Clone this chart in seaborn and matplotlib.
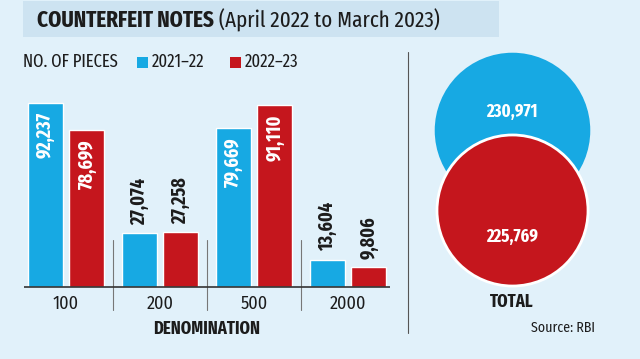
import seaborn as sns
import matplotlib.pyplot as plt
import matplotlib.patches as mpatches
import pandas as pd

# data
denominations = ["100", "200", "500", "2000"]
years = ["2021\u201322", "2022\u201323"]
pieces_2021_22 = [92237, 27074, 79669, 13604]
pieces_2022_23 = [78699, 27258, 91110, 9806]
totals = [230971, 225769]

BLUE = "#17a9e3"
RED = "#c5161d"
BG = "#e1f1fa"
BAND = "#cde3f1"
DARK = "#1c1c1c"

sns.set_style("white")
COND = ["Fira Sans Condensed", "Roboto Condensed", "IBM Plex Sans Condensed", "DejaVu Sans"]
XCOND = ["Fira Sans Extra Condensed", "Fira Sans Condensed", "Roboto Condensed",
         "IBM Plex Sans Condensed", "DejaVu Sans"]
plt.rcParams["font.family"] = COND

df = pd.DataFrame({
    "denomination": denominations * 2,
    "year": [years[0]] * 4 + [years[1]] * 4,
    "pieces": pieces_2021_22 + pieces_2022_23,
})

W, H = 640, 359
fig = plt.figure(figsize=(6.4, 3.59), dpi=100, facecolor=BG)


def px_axes(x0, y0, x1, y1):
    # axes placed in pixel coords (y measured from top)
    return fig.add_axes([x0 / W, (H - y1) / H, (x1 - x0) / W, (y1 - y0) / H])


# overlay for texts / decorations in pixel coords
ov = px_axes(0, 0, W, H)
ov.set_xlim(0, W)
ov.set_ylim(H, 0)
ov.axis("off")

ov.add_patch(mpatches.Rectangle((23, 1), 476, 36, color=BAND, lw=0))
t1 = ov.text(37, 20, "COUNTERFEIT NOTES", fontsize=16.5, fontweight="bold",
             color=DARK, va="center", ha="left", family=XCOND)
ov.annotate(" (April 2022 to March 2023)", xy=(1, 0.5), xycoords=t1,
            fontsize=16.5, color=DARK, va="center", ha="left", family=XCOND)

ov.text(23, 62, "NO. OF PIECES", fontsize=13, color=DARK, va="center",
        family=XCOND)
for x, lab, col in zip([137, 230], years, [BLUE, RED]):
    ov.add_patch(mpatches.Rectangle((x, 57), 11, 11, color=col, lw=0))
    ov.text(x + 15, 62, lab, fontsize=13, color=DARK, va="center",
            family=XCOND)

ov.plot([408, 408], [52, 333], color="#555555", lw=0.8)

# bar chart
ax = px_axes(19, 95, 395, 287)
ax.set_facecolor("none")
sns.barplot(data=df, x="denomination", y="pieces", hue="year",
            order=denominations, hue_order=years, palette=[BLUE, RED],
            width=0.885, gap=0.16, saturation=1, ax=ax, legend=False)
ax.set_xlim(-0.5, len(denominations) - 0.5)
ax.set_ylim(0, 96000)
for s in ax.spines.values():
    s.set_visible(False)
ax.set_yticks([])
ax.set_xticks([])
ax.set_xlabel("")
ax.set_ylabel("")

ax.hlines(0, -0.885 / 2, len(denominations) - 1 + 0.885 / 2,
          color="#333333", lw=1.2, clip_on=False, zorder=5)
for i in range(len(denominations) - 1):
    ax.plot([i + 0.5, i + 0.5], [23400, -11500], color="#777777", lw=0.8,
            clip_on=False)
for i, d in enumerate(denominations):
    ax.annotate(d, xy=(i, 0), xytext=(0, -6), textcoords="offset points",
                ha="center", va="top", fontsize=13, color=DARK,
                annotation_clip=False)
ax.annotate("DENOMINATION", xy=(1.5, 0), xytext=(0, -24),
            textcoords="offset points", ha="center", va="top",
            fontsize=13, fontweight="bold", color=DARK, annotation_clip=False,
            family=XCOND)

for cont in ax.containers:
    for bar in cont:
        v = bar.get_height()
        xc = bar.get_x() + bar.get_width() / 2
        if v > 50000:
            ax.annotate(f"{v:,.0f}", xy=(xc, v), xytext=(0, -7),
                        textcoords="offset points", rotation=90,
                        ha="center", va="top", fontsize=14,
                        fontweight="bold", color="white", family=XCOND)
        else:
            ax.annotate(f"{v:,.0f}", xy=(xc, v), xytext=(0, 6),
                        textcoords="offset points", rotation=90,
                        ha="center", va="bottom", fontsize=14,
                        fontweight="bold", color=DARK, family=XCOND)

# totals as circles, area proportional to value
cx = px_axes(432, 90, 592, 250)
cx.set_xlim(-1, 1)
cx.set_ylim(-0.5, 1.5)
cx.axis("off")
scale = 12100 / max(totals)
ypos = [1, 0]
for y, val, col, ec in zip(ypos, totals, [BLUE, RED], [BLUE, "white"]):
    cx.scatter([0], [y], s=val * scale, color=col, edgecolor=ec,
               linewidth=2, zorder=2 + (1 - y), clip_on=False)
cx.annotate(f"{totals[0]:,}", xy=(0, ypos[0]), xytext=(0, 13),
            textcoords="offset points", ha="center", va="center",
            fontsize=13, fontweight="bold", color="white", zorder=5,
            family=XCOND)
cx.annotate(f"{totals[1]:,}", xy=(0, ypos[1]), xytext=(0, -19),
            textcoords="offset points", ha="center", va="center",
            fontsize=13, fontweight="bold", color="white", zorder=5,
            family=XCOND)

ov.text(512, 302, "TOTAL", fontsize=13, fontweight="bold", color=DARK,
        ha="center", va="center", family=XCOND)
ov.text(563, 328, "Source: RBI", fontsize=10, color=DARK,
        ha="center", va="center")

fig.savefig("out.png", dpi=100, facecolor=BG)
